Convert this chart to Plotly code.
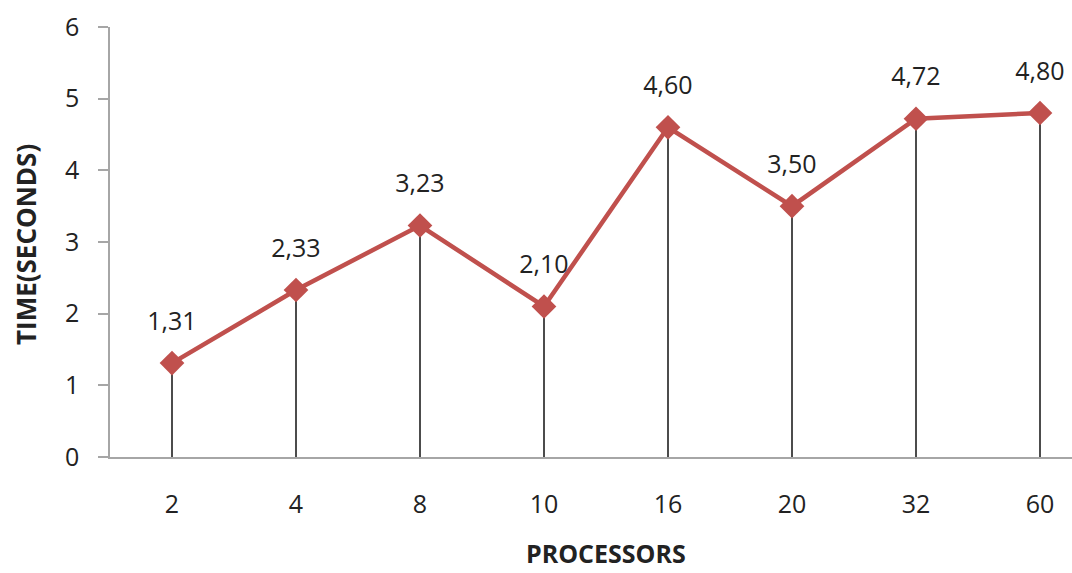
import plotly.graph_objects as go

processors = ["2", "4", "8", "10", "16", "20", "32", "60"]
times = [1.31, 2.33, 3.23, 2.10, 4.60, 3.50, 4.72, 4.80]
labels = ["1,31", "2,33", "3,23", "2,10", "4,60", "3,50", "4,72", "4,80"]
y_ticks = [0, 1, 2, 3, 4, 5, 6]

FONT = "Open Sans"
xs = list(range(len(processors)))
fig = go.Figure()
fig.add_trace(go.Scatter(
    x=xs, y=times,
    mode="lines+markers",
    line=dict(color="#C0504D", width=4.5),
    marker=dict(symbol="diamond", size=19, color="#C0504D"),
    error_y=dict(type="data", symmetric=False, array=[0] * len(times),
                 arrayminus=times, width=0, thickness=1.5, color="#111"),
    cliponaxis=False, showlegend=False, hoverinfo="skip",
))
# data labels (invisible larger markers push the text above the point)
fig.add_trace(go.Scatter(
    x=xs, y=times, mode="markers+text",
    text=labels, textposition="top center",
    textfont=dict(family=FONT, size=25, color="#222"),
    marker=dict(size=42, opacity=0),
    cliponaxis=False, showlegend=False,
))

step_px = 124.0
plot_w = 1072 - 110
fig.update_layout(
    width=1072, height=573,
    margin=dict(l=110, r=0, t=27, b=116),
    paper_bgcolor="white", plot_bgcolor="white",
    font=dict(family=FONT, size=18, color="#222"),
    xaxis=dict(
        range=[-0.5, -0.5 + plot_w / step_px],
        tickmode="array", tickvals=xs, ticktext=processors,
        showgrid=False, zeroline=False, showline=True, linecolor="#A6A6A6", linewidth=1.5,
        ticks="", ticklabelstandoff=24,
        tickfont=dict(family=FONT, size=25, color="#222"),
    ),
    yaxis=dict(
        range=[0, 6], tickvals=y_ticks,
        showgrid=False, zeroline=False, showline=True, linecolor="#A6A6A6", linewidth=1.5,
        ticks="outside", ticklen=10, tickcolor="#A6A6A6", tickwidth=1.5,
        ticklabelstandoff=14,
        tickfont=dict(family=FONT, size=25, color="#222"),
    ),
    annotations=[
        dict(text="<b>PROCESSORS</b>", x=606, y=553, xref="paper", yref="paper",
             xanchor="center", yanchor="middle",
             showarrow=False, font=dict(family=FONT, size=25, color="#222")),
        dict(text="<b>TIME(SECONDS)</b>", x=26, y=245, xref="paper", yref="paper",
             xanchor="center", yanchor="middle",
             showarrow=False, textangle=-90, font=dict(family=FONT, size=26, color="#222")),
    ],
)
# convert pixel positions of annotations to paper coordinates
pw, ph = 1072 - 110, 573 - 27 - 116
for a in fig.layout.annotations:
    px, py = a.x, a.y
    a.x = (px - 110) / pw
    a.y = (573 - 116 - py) / ph

fig.write_html("out.html")
